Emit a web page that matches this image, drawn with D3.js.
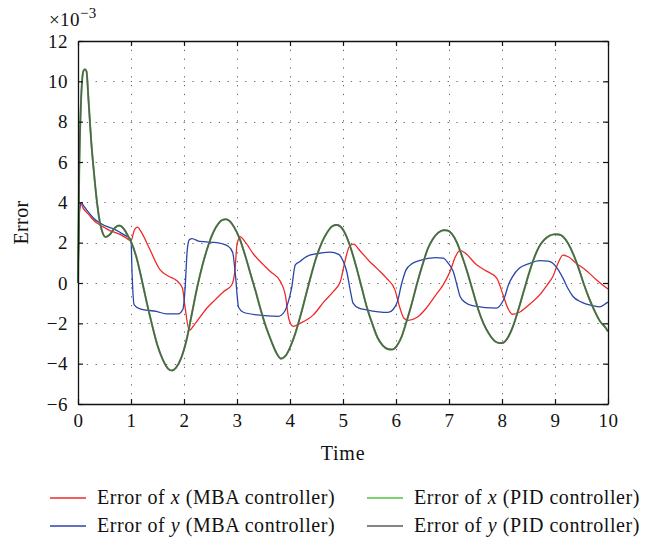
<!DOCTYPE html>
<html>
<head>
<meta charset="utf-8">
<script src="https://cdn.jsdelivr.net/npm/d3@7"></script>
<style>
body{margin:0;background:#fff;}
svg text{font-family:"Liberation Serif","DejaVu Serif",serif;fill:#111;}
</style>
</head>
<body>
<div id="chart"></div>
<script>
// values are in units of 1e-3, time in seconds
var xTicks = [0,1,2,3,4,5,6,7,8,9,10];
var yTicks = [-6,-4,-2,0,2,4,6,8,10,12];

var mbaX = [[0,0],[0.03,3.6],[0.06,3.9],[0.1,3.7],[0.2,3.4],[0.3,3.1],[0.4,2.9],[0.5,2.75],[0.6,2.6],[0.7,2.5],[0.8,2.4],[0.9,2.25],[1.0,2.1],
  [1.06,2.6],[1.12,2.77],[1.2,2.5],[1.35,1.7],[1.55,0.65],[1.7,0.35],[1.86,0.12],[1.97,-0.25],[2.02,-1.2],[2.1,-2.35],[2.2,-2.05],
  [2.43,-1.25],[2.6,-0.8],[2.75,-0.42],[2.9,-0.1],[2.96,0.6],[3.0,1.9],[3.06,2.3],[3.15,2.05],[3.32,1.4],[3.5,0.9],[3.63,0.57],
  [3.82,0.07],[3.91,-0.57],[3.98,-1.8],[4.06,-2.15],[4.19,-2.0],[4.44,-1.58],[4.65,-0.9],[4.82,-0.42],[4.95,0.07],[5.03,1.0],
  [5.12,1.8],[5.2,1.93],[5.32,1.6],[5.5,1.07],[5.65,0.7],[5.82,0.24],[5.98,-0.34],[6.07,-1.2],[6.15,-1.75],[6.23,-1.85],
  [6.4,-1.7],[6.57,-1.25],[6.75,-0.6],[6.89,-0.09],[7.02,0.57],[7.12,1.3],[7.21,1.62],[7.32,1.45],[7.52,0.9],[7.7,0.6],
  [7.9,0.24],[8.02,-0.59],[8.12,-1.3],[8.2,-1.55],[8.33,-1.45],[8.5,-1.1],[8.71,-0.59],[8.85,-0.1],[8.96,0.32],[9.06,1.0],
  [9.15,1.38],[9.25,1.3],[9.4,0.98],[9.6,0.6],[9.78,0.16],[9.9,-0.1],[10,-0.3]];

var mbaY = [[0,0],[0.03,3.7],[0.06,4.0],[0.1,3.85],[0.2,3.5],[0.3,3.2],[0.4,3.0],[0.5,2.85],[0.6,2.75],[0.7,2.65],[0.8,2.5],[0.9,2.35],[1.0,2.15],
  [1.02,0.5],[1.06,-1.08],[1.17,-1.28],[1.48,-1.41],[1.67,-1.53],[1.89,-1.53],[1.98,-1.3],[2.02,-0.3],[2.06,1.6],[2.1,2.14],
  [2.15,2.2],[2.3,2.06],[2.62,2.0],[2.84,1.81],[2.92,1.5],[2.97,0.4],[3.03,-1.2],[3.12,-1.45],[3.38,-1.58],[3.78,-1.65],
  [3.9,-1.4],[3.96,-1.0],[4.03,-0.26],[4.1,0.9],[4.19,1.07],[4.31,1.31],[4.5,1.45],[4.75,1.53],[4.92,1.42],[5.0,1.1],
  [5.07,0.57],[5.14,-0.4],[5.19,-1.0],[5.3,-1.25],[5.44,-1.33],[5.85,-1.46],[5.95,-1.3],[6.03,-0.9],[6.1,-0.1],[6.19,0.65],
  [6.3,0.95],[6.44,1.11],[6.75,1.26],[6.89,1.23],[6.98,1.0],[7.08,0.57],[7.15,-0.1],[7.21,-0.67],[7.3,-0.95],[7.46,-1.13],
  [7.9,-1.25],[7.97,-1.1],[8.05,-0.7],[8.12,-0.1],[8.2,0.32],[8.33,0.74],[8.5,0.95],[8.71,1.11],[8.87,1.08],[8.96,0.98],
  [9.05,0.7],[9.15,0.24],[9.25,-0.3],[9.34,-0.67],[9.5,-0.95],[9.72,-1.13],[9.85,-1.18],[9.97,-1.0],[10,-0.95]];

var pidX = [[0,0],[0.02,5],[0.05,8.5],[0.1,10.5],[0.13,10.6],[0.16,10.5],[0.2,9],[0.25,7],[0.3,5.5],[0.35,4.2],[0.4,3.2],
  [0.45,2.6],[0.52,2.28],[0.6,2.4],[0.7,2.75],[0.78,2.85],[0.86,2.7],[0.95,2.3],[1.0,2.05],[1.1,1.3],[1.2,0.2],[1.3,-1.0],
  [1.4,-2.1],[1.5,-3.1],[1.6,-3.8],[1.7,-4.25],[1.77,-4.34],[1.85,-4.2],[1.95,-3.7],[2.05,-2.8],[2.15,-1.5],[2.25,-0.2],
  [2.35,0.9],[2.45,1.8],[2.55,2.5],[2.65,2.95],[2.72,3.12],[2.79,3.16],[2.87,3.05],[2.95,2.75],[3.05,2.2],[3.15,1.4],
  [3.25,0.5],[3.35,-0.4],[3.45,-1.35],[3.55,-2.2],[3.65,-2.9],[3.75,-3.5],[3.83,-3.75],[3.92,-3.6],[4.0,-3.2],[4.1,-2.5],
  [4.2,-1.6],[4.3,-0.6],[4.4,0.4],[4.5,1.3],[4.6,2.0],[4.7,2.5],[4.8,2.82],[4.88,2.88],[4.96,2.78],[5.05,2.4],[5.15,1.7],
  [5.25,0.8],[5.35,-0.2],[5.45,-1.2],[5.55,-2.0],[5.65,-2.7],[5.75,-3.1],[5.85,-3.28],[5.93,-3.3],[6.02,-3.1],[6.1,-2.7],
  [6.2,-1.9],[6.3,-1.0],[6.4,0.0],[6.5,0.9],[6.6,1.7],[6.7,2.2],[6.8,2.5],[6.9,2.62],[6.97,2.6],[7.05,2.45],[7.15,2.0],
  [7.25,1.3],[7.35,0.5],[7.45,-0.4],[7.55,-1.3],[7.65,-2.0],[7.75,-2.5],[7.85,-2.85],[7.95,-2.98],[8.01,-2.97],[8.1,-2.75],
  [8.2,-2.2],[8.3,-1.4],[8.4,-0.5],[8.5,0.4],[8.6,1.2],[8.7,1.8],[8.8,2.15],[8.9,2.35],[9.0,2.42],[9.08,2.4],[9.15,2.3],
  [9.25,1.95],[9.35,1.4],[9.45,0.7],[9.55,-0.1],[9.65,-0.8],[9.75,-1.4],[9.85,-1.9],[9.95,-2.2],[10,-2.4]];

// y error of PID sits practically on top of the x error
var pidY = pidX.map(function(d){ return [d[0], d[1]]; });

var legendItems = [
  {pre:"Error of ", v:"x", post:" (MBA controller)", color:"#f02828", data:mbaX},
  {pre:"Error of ", v:"y", post:" (MBA controller)", color:"#2a45a8", data:mbaY},
  {pre:"Error of ", v:"x", post:" (PID controller)", color:"#4cc63a", data:pidX},
  {pre:"Error of ", v:"y", post:" (PID controller)", color:"#5a5d58", data:pidY}
];

var W = 647, H = 542,
  m = {left:78, right:39, top:41, bottom:138},
  w = W - m.left - m.right, h = H - m.top - m.bottom;

var svg = d3.select("#chart").append("svg")
  .attr("width", W).attr("height", H)
  .style("background","#fff");

var x = d3.scaleLinear().domain([0,10]).range([m.left, m.left+w]);
var y = d3.scaleLinear().domain([-6,12]).range([m.top+h, m.top]);

//grid
var grid = svg.append("g").attr("class","grid")
  .attr("stroke","#6a6a6a").attr("stroke-width",1).attr("stroke-dasharray","1.3,7.5");
grid.selectAll(".gx").data(xTicks.slice(1,-1)).enter().append("line")
  .attr("x1", function(d){ return Math.round(x(d))+0.5; })
  .attr("x2", function(d){ return Math.round(x(d))+0.5; })
  .attr("y1", m.top).attr("y2", m.top+h);
grid.selectAll(".gy").data(yTicks.slice(1,-1)).enter().append("line")
  .attr("y1", function(d){ return Math.round(y(d))+0.5; })
  .attr("y2", function(d){ return Math.round(y(d))+0.5; })
  .attr("x1", m.left).attr("x2", m.left+w);

//lines
var line = d3.line()
  .x(function(d){ return x(d[0]); })
  .y(function(d){ return y(d[1]); })
  .curve(d3.curveMonotoneX);

var widths = [1.3, 1.3, 2.0, 1.6];
legendItems.forEach(function(s,i){
  svg.append("path").datum(s.data)
    .attr("d", line)
    .attr("fill","none")
    .attr("stroke", s.color)
    .attr("stroke-width", widths[i])
    .attr("stroke-linejoin","round");
});

//axes, ticks inside on all four sides
function tickIn(axis){ return axis.tickSizeInner(-5).tickSizeOuter(0).tickPadding(10); }
var gB = svg.append("g").attr("transform","translate(0,"+(m.top+h)+")")
  .call(tickIn(d3.axisBottom(x).tickValues(xTicks).tickFormat(d3.format("d"))));
var gT = svg.append("g").attr("transform","translate(0,"+m.top+")")
  .call(tickIn(d3.axisTop(x).tickValues(xTicks)).tickFormat(""));
var gL = svg.append("g").attr("transform","translate("+m.left+",0)")
  .call(tickIn(d3.axisLeft(y).tickValues(yTicks).tickFormat(d3.format("d"))));
var gR = svg.append("g").attr("transform","translate("+(m.left+w)+",0)")
  .call(tickIn(d3.axisRight(y).tickValues(yTicks)).tickFormat(""));
[gB,gT,gL,gR].forEach(function(g){
  g.select(".domain").attr("stroke","#111").attr("stroke-width",1.3);
  g.selectAll(".tick line").attr("stroke","#111").attr("stroke-width",1.2);
  g.selectAll(".tick text").attr("font-size",19).attr("font-family","Liberation Serif, serif")
    .attr("fill","#111").attr("letter-spacing",0.5);
});

//exponent label
var ex = svg.append("text").attr("x",49).attr("y",26).attr("font-size",19).attr("letter-spacing",0.4);
ex.append("tspan").text("×10");
ex.append("tspan").attr("dy",-8).attr("font-size",15).text("−3");

svg.append("text").attr("x", m.left + w/2).attr("y", 460)
  .attr("text-anchor","middle").attr("font-size",20).attr("letter-spacing",0.8).text("Time");
svg.append("text").attr("transform","translate(28,"+(m.top+h/2)+") rotate(-90)")
  .attr("text-anchor","middle").attr("font-size",20).attr("letter-spacing",0.4).text("Error");

//legend
var legPos = [[50,498],[50,526],[367,498],[367,526]];
legendItems.forEach(function(s,i){
  var p = legPos[i];
  var g = svg.append("g").attr("transform","translate("+p[0]+","+p[1]+")");
  g.append("line").attr("x1",0).attr("x2",36).attr("y1",0).attr("y2",0)
    .attr("stroke", s.color).attr("stroke-width",1.4);
  var t = g.append("text").attr("x",47).attr("y",6).attr("font-size",20).attr("letter-spacing",0.55);
  t.append("tspan").text(s.pre);
  t.append("tspan").attr("font-style","italic").text(s.v);
  t.append("tspan").text(s.post);
});
</script>
</body>
</html>
